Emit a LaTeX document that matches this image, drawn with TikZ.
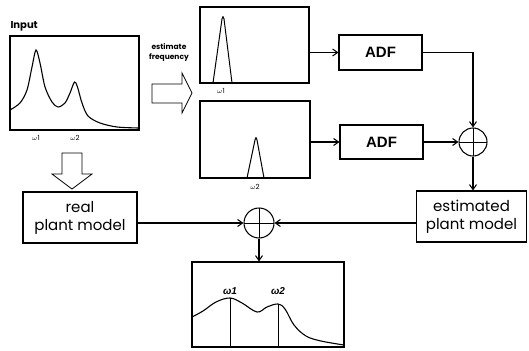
\documentclass[tikz,border=0pt]{standalone}
\usepackage{fontspec}
\setmainfont{Poppins}
\newfontfamily\adffont{Liberation Sans}
\usetikzlibrary{arrows.meta,calc}
\begin{document}
\begin{tikzpicture}[x=1pt,y=-1pt,line width=1.05pt,
  box/.style={draw,rectangle,inner sep=0pt},
  lbl/.style={inner sep=0pt},
  sumj/.style={draw,circle,minimum size=28pt,inner sep=0pt,
    path picture={\draw[line width=1pt] (path picture bounding box.north) -- (path picture bounding box.south)
      (path picture bounding box.west) -- (path picture bounding box.east);}},
  conn/.style={-{Straight Barb[length=5pt,width=7pt]}},
  adf/.style={box,font=\adffont\bfseries\fontsize{15}{18}\selectfont},
  model/.style={box,align=center,font=\fontsize{15}{18}\selectfont},
]
\useasboundingbox (0,0) rectangle (529,350);
% boxes
\node[box,minimum width=129pt,minimum height=94pt] (inbox) at (74.5,83) {};
\node[box,minimum width=109pt,minimum height=76pt] (f1) at (254.5,45) {};
\node[box,minimum width=110pt,minimum height=77pt] (f2) at (255,139.5) {};
\node[adf,minimum width=83pt,minimum height=35pt] (adf1) at (380.5,52.5) {ADF};
\node[adf,minimum width=83pt,minimum height=34pt] (adf2) at (381.5,142) {ADF};
\node[sumj] (sum1) at (473,142) {};
\node[model,minimum width=110pt,minimum height=51pt] (est) at (471.5,216.5) {estimated\\plant model};
\node[model,minimum width=114pt,minimum height=51pt] (real) at (80,217.5) {real\\plant model};
\node[sumj,minimum size=30pt] (sum2) at (259,223) {};
\node[box,minimum width=152pt,minimum height=85pt] (out) at (268,304.5) {};
% texts
\node[lbl,anchor=west,font=\bfseries\fontsize{10}{12}\selectfont] (intxt) at (10,26) {Input};
\node[lbl,align=center,font=\bfseries\fontsize{7.5}{10}\selectfont] (esttxt) at (169,52) {estimate\\frequency};
\node[lbl,font=\fontsize{7}{8}\selectfont] (w1a) at (36,138) {$\omega$1};
\node[lbl,font=\fontsize{7}{8}\selectfont] (w2a) at (75,138) {$\omega$2};
\node[lbl,font=\fontsize{7}{8}\selectfont] (w1b) at (221,91) {$\omega$1};
\node[lbl,font=\fontsize{7}{8}\selectfont] (w2b) at (255,187) {$\omega$2};
\node[lbl,font=\adffont\bfseries\itshape\fontsize{10}{12}\selectfont] (w1c) at (230,291) {ω1};
\node[lbl,font=\adffont\bfseries\itshape\fontsize{10}{12}\selectfont] (w2c) at (278,291) {ω2};
% connectors
\draw[conn] (f1.east |- adf1) -- (adf1);
\draw[conn] (f2.east |- adf2) -- (adf2);
\draw[conn] (adf1.east) -| (sum1.north);
\draw[conn] (adf2.east) -- (sum1.west);
\draw[conn] (sum1.south) -- (sum1.south |- est.north);
\draw[conn] (real.east |- sum2) -- (sum2.west);
\draw[conn] (est.west |- sum2) -- (sum2.east);
\draw[conn] (sum2.south) -- (sum2.south |- out.north);
% hollow arrows
\draw[line width=0.8pt] (152,84) -- (182,84) -- (182,73) -- (192,93) -- (182,113) -- (182,103) -- (152,103) -- cycle;
\draw[line width=0.8pt] (62,153) -- (82,153) -- (82,174) -- (92,174) -- (72,189) -- (52,174) -- (62,174) -- cycle;
% input curve
\draw[line width=1.1pt] plot[smooth,tension=0.5] coordinates {(10,110) (20,103) (27,90) (32,67) (36,50) (40,63) (45,87) (52,102) (58,107) (65,103) (70,93) (74.5,82) (77.5,87) (82,103) (88,116) (100,123) (117,127) (139,128)};
% filter peaks
\draw[line width=1pt] (213,83) -- (222,19) .. controls (223,16) .. (224,19) -- (232,83);
\draw[line width=1pt] (247,178) -- (255,140) .. controls (256,137) .. (257,140) -- (264,178);
% output curve
\draw[line width=1.1pt] plot[smooth,tension=0.6] coordinates {(192,317) (203,311) (216,302) (230,298) (242,303) (257,312) (267,307) (278,304) (285,309) (294,325) (306,336) (321,341) (344,345)};
\draw[line width=0.9pt] (230,298) -- (230,347);
\draw[line width=0.9pt] (278,304) -- (278,347);
\end{tikzpicture}
\end{document}
